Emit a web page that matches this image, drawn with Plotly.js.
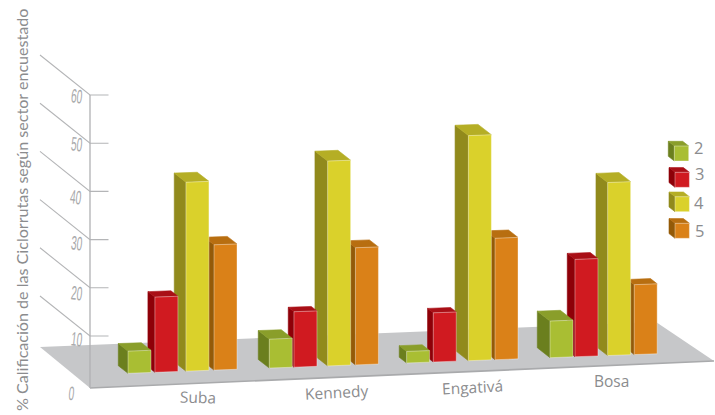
<!DOCTYPE html>
<html>
<head>
<meta charset="utf-8">
<script src="https://cdn.plot.ly/plotly-3.0.1.min.js"></script>
<style>html,body{margin:0;padding:0;background:#fff;overflow:hidden}</style>
</head>
<body>
<div id="chart" style="width:715px;height:415px"></div>
<script>
// Survey data
const categories = ['Suba', 'Kennedy', 'Engativá', 'Bosa'];
const seriesNames = ['2', '3', '4', '5'];
const values2 = [4.6, 6.0, 2.4, 7.6];
const values3 = [15.6, 11.5, 10.2, 20.2];
const values4 = [39.2, 42.5, 46.7, 35.9];
const values5 = [26.0, 24.3, 25.2, 14.5];
const tickValues = [0, 10, 20, 30, 40, 50, 60];

// Bar placement along the floor, in category steps
const positions2 = [0, 1.002, 1.976, 2.993];
const positions3 = [0.191, 1.177, 2.165, 3.17];
const positions4 = [0.411, 1.416, 2.414, 3.402];
const positions5 = [0.61, 1.613, 2.603, 3.59];
const barWidth = 0.163;
// Apparent depth of each bar, in px
const depths2 = [9.7, 11, 7.4, 12.7];
const depths3 = [7, 5.7, 5.7, 7.7];
const depths4 = [11.7, 12.7, 13.3, 11.7];
const depths5 = [9.7, 9, 9.5, 6.7];

// Face colours per series: front, left, top
const faces = [
  ['#a9be33', '#6b7f1e', '#8a9e2a'],
  ['#d01a20', '#8e0008', '#a90f16'],
  ['#dad12b', '#918a1c', '#b5ae25'],
  ['#da8118', '#945a08', '#b86e10']
];

// Axis scale: one x unit is one category step, one y unit is one percent
const PX_X = 141, PX_Y = 4.82;
const toX = p => (p - 128) / PX_X;
const toY = p => (384.2 - p) / PX_Y;
const depthX = d => -d / PX_X;
const depthY = d => 0.78 * d / PX_Y;

// The floor tilts upward to the right
const FLOOR_SLOPE = 0.037 * PX_X / PX_Y;
const floorAt = x => toY(373.3) + x * FLOOR_SLOPE;

const traces = [];
function poly(xs, ys, fill, edge, edgeWidth) {
  traces.push({
    type: 'scatter', mode: 'lines', x: xs.concat(xs[0]), y: ys.concat(ys[0]),
    fill: 'toself', fillcolor: fill,
    line: {color: edge || fill, width: edgeWidth === undefined ? 0.6 : edgeWidth},
    hoverinfo: 'skip', showlegend: false
  });
}
function line(xs, ys, color, width) {
  traces.push({
    type: 'scatter', mode: 'lines', x: xs, y: ys,
    line: {color: color, width: width}, hoverinfo: 'skip', showlegend: false
  });
}
function box(x, base, w, slope, h, d, col) {
  const dx = depthX(d), dy = depthY(d), r = x + w, baseR = base + w * slope;
  poly([x + dx, x, x, x + dx], [base + dy, base, base + h, base + dy + h], col[1]);
  poly([x + dx, x, r, r + dx], [base + dy + h, base + h, baseR + h, baseR + dy + h], col[2]);
  poly([x, r, r, x], [base, baseR, baseR + h, base + h], col[0], 'rgba(255,255,255,0.45)', 0.8);
}

// Floor and walls
const axisX = toX(90);
const wallDX = -50 / PX_X, wallDY = 40 / PX_Y;
tickValues.slice(1).forEach(v => {
  line([axisX + wallDX, axisX, axisX + 18.5 / PX_X], [v + wallDY, v, v], '#b4b5b7', 1.1);
});
poly([toX(90), toX(714), toX(656), toX(40)], [toY(388), toY(361), toY(322), toY(347)], '#c6c7c9', '#c6c7c9', 0);
line([toX(90), toX(714)], [toY(388), toY(361)], '#a9aaac', 1.6);
line([axisX, axisX], [toY(388), 60], '#b0b1b3', 1.3);

// Bars, far side of each group first so nearer bars overlap it
const allValues = [values2, values3, values4, values5];
const allDepths = [depths2, depths3, depths4, depths5];
const allPositions = [positions2, positions3, positions4, positions5];
categories.forEach((c, g) => {
  for (let s = 3; s >= 0; s--) {
    const x = allPositions[s][g];
    box(x, floorAt(x), barWidth, FLOOR_SLOPE, allValues[s][g], allDepths[s][g], faces[s]);
  }
});

// Legend cubes
const legendTop = [146, 172.3, 196.7, 223.3];
seriesNames.forEach((n, s) => {
  const left = s === 0 ? 674.3 : 675;
  box(toX(left), toY(legendTop[s] + 15), 14.4 / PX_X, 0, 15 / PX_Y, 6, faces[s]);
});

// Text
const GREY = '#8b8c8e';
const annotations = [];
function label(text, px, py, size, angle, family, color) {
  annotations.push({
    text: text, x: toX(px), y: toY(py), xref: 'x', yref: 'y', showarrow: false,
    xanchor: 'center', yanchor: 'middle', textangle: angle,
    font: {family: family, size: size, color: color || GREY}
  });
}
const tickPx = [[71, 393], [77, 339], [77, 293], [77, 243], [76, 197], [77, 144], [77, 96]];
tickValues.forEach((v, i) => label(String(v), tickPx[i][0], tickPx[i][1], 19.5, 6, 'Liberation Sans Narrow, Liberation Sans, sans-serif', '#a8a9ab'));
const catPx = [[197.7, 396.7, 2], [336.7, 392, -3], [472.7, 386.7, -3], [611, 380.7, 0]];
categories.forEach((c, i) => label(c, catPx[i][0], catPx[i][1], 15.5, catPx[i][2], 'Open Sans, sans-serif'));
const legendTextPx = [[698.3, 147], [699.7, 173.3], [699.3, 202.3], [699.7, 230]];
seriesNames.forEach((n, i) => label(n, legendTextPx[i][0], legendTextPx[i][1], 16.5, 0, 'Open Sans, sans-serif'));
label('% Calificación de las Ciclorrutas según sector encuestado', 21, 210, 16.1, -90, 'Lato, sans-serif');

Plotly.newPlot('chart', traces, {
  width: 715, height: 415,
  margin: {l: 0, r: 0, t: 0, b: 0},
  paper_bgcolor: '#fff', plot_bgcolor: '#fff',
  showlegend: false,
  xaxis: {range: [toX(0), toX(715)], visible: false, fixedrange: true},
  yaxis: {range: [toY(415), toY(0)], visible: false, fixedrange: true},
  annotations: annotations
}, {displayModeBar: false, staticPlot: true}).then(() => {
  // Condense the axis numerals, which are set in a tall narrow style
  const texts = document.querySelectorAll('#chart .annotation-text');
  tickValues.forEach((v, i) => {
    const t = texts[i];
    t.setAttribute('textLength', String(v).length * 5.6);
    t.setAttribute('lengthAdjust', 'spacingAndGlyphs');
  });
});
</script>
</body>
</html>
